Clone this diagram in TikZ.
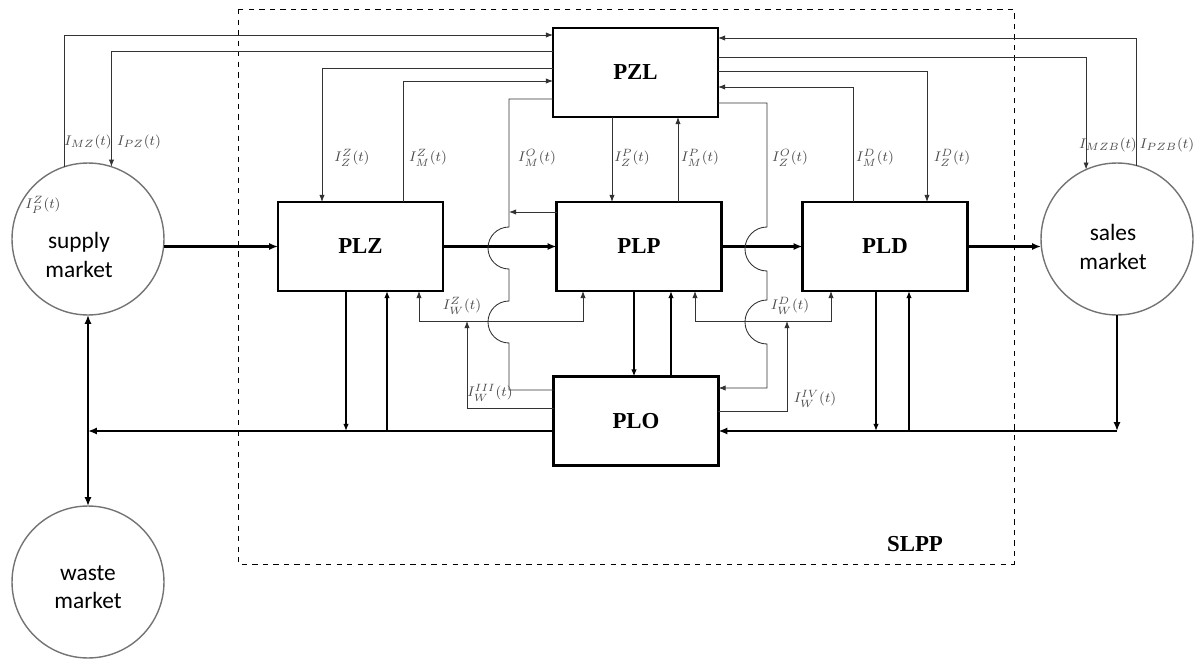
\documentclass[tikz,border=0pt]{standalone}
\usepackage{fontspec}
\setmainfont{Liberation Serif}
\newfontfamily\marketfont{Carlito}
\usetikzlibrary{arrows.meta,positioning,calc}
\tikzset{
  blok/.style={rectangle, draw, line width=1.6pt, minimum width=3.3cm, minimum height=1.78cm,
               inner sep=0pt, outer sep=0pt, font=\fontsize{13}{15}\selectfont\bfseries},
  rynek/.style={circle, draw=black!55, line width=0.8pt, minimum size=3.04cm, inner sep=0pt, outer sep=0pt},
  rtext/.style={align=center, font=\marketfont\fontsize{13.3}{16}\selectfont},
  info/.style={-{Latex[length=4pt,width=3pt]}, line width=0.5pt, draw=black!80},
  mid/.style={-{Latex[length=4pt,width=3pt]}, line width=0.65pt},
  flow/.style={-{Latex[length=5pt,width=4pt]}, line width=1.3pt},
  lbl/.style={font=\fontsize{8.3}{10}\selectfont, text=black!70, inner sep=1pt},
}

\begin{document}
\begin{tikzpicture}[x=0.02cm, y=-0.02cm]
\useasboundingbox (0,0) rectangle (1198,659);

% system border
\draw[dashed, line width=0.5pt] (238,9) rectangle (1014,564);
\node[font=\fontsize{13}{15}\selectfont\bfseries] (slpp) at (915,544) {SLPP};

% blocks
\node[blok] (pzl) at (635.5,72.5) {PZL};
\node[blok] (plz) at (360.5,246.5) {PLZ};
\node[blok] (plp) at (639,246.5) {PLP};
\node[blok] (pld) at (885,246.5) {PLD};
\node[blok] (plo) at (636,421) {PLO};

% markets
\node[rynek] (supply) at (88,239) {};
\node[rtext] (supplytxt) at (79,255) {supply\\market};
\node[rynek] (sales) at (1117,239) {};
\node[rtext] (salestxt) at (1113,247) {sales\\market};
\node[rynek] (waste) at (88,582) {};
\node[rtext] (wastetxt) at (88,587) {waste\\market};

% material flow
\draw[flow] (supply.east |- plz.west) -- (plz.west);
\draw[flow] (plz.east) -- (plp.west);
\draw[flow] (plp.east) -- (pld.west);
\draw[flow] (pld.east) -- (pld.east -| sales.west);
\draw[flow] (plo.west |- 0,431) -- (supply.south |- 0,431);
\draw[flow, {Latex[length=5pt,width=4pt]}-{Latex[length=5pt,width=4pt]}] (supply.south) -- (waste.north);
\draw[flow] (sales.south) -- (sales.south |- 0,431);
\draw[flow] (sales.south |- 0,431) -- (plo.east |- 0,431);
\draw[mid] (plz.south -| 346,0) -- (346,431);
\draw[mid] (387,431) -- (plz.south -| 387,0);
\draw[mid] (pld.south -| 876,0) -- (876,431);
\draw[mid] (909,431) -- (pld.south -| 909,0);
\draw[mid] (plp.south -| 634,0) -- (plo.north -| 634,0);
\draw[mid] (plo.north -| 671,0) -- (plp.south -| 671,0);

% information flow, top
\draw[info] (supply.108) |- (pzl.west |- 0,35);
\draw[info] (pzl.west |- 0,51) -| (supply.72);
\draw[info] (pzl.west |- 0,68) -| (plz.north -| 322,0);
\draw[info] (plz.north -| 403,0) |- (pzl.west |- 0,81);
\draw[info] (pzl.south -| 612,0) -- (plp.north -| 612,0);
\draw[info] (plp.north -| 678,0) -- (pzl.south -| 678,0);
\draw[info] (pld.north -| 853,0) |- (pzl.east |- 0,87);
\draw[info] (pzl.east |- 0,71) -| (pld.north -| 927,0);
\draw[info] (pzl.east |- 0,57) -| (sales.114);
\draw[info] (sales.75) |- (pzl.east |- 0,38);

% information flow, through the middle (with hops)
\draw[line width=0.5pt, draw=black!80] (plo.west |- 0,390) -- (509,390) -- (509,343) arc(90:270:21)
  -- (509,269) arc(90:270:21) -- (509,99) -- (pzl.west |- 0,99);
\draw[info] (plp.west |- 0,212) -- (509,212);
\draw[info] (pzl.east |- 0,103) -- (767,103) -- (767,227) arc(270:90:22)
  -- (767,300) arc(270:90:22) -- (767,388) -- (plo.east |- 0,388);

% information flow, bottom
\draw[info, {Latex[length=4pt,width=3pt]}-{Latex[length=4pt,width=3pt]}] (plz.south -| 419,0) -- (419,321) -- (583,321) -- (plp.south -| 583,0);
\draw[info] (plo.west |- 0,408) -| (467,321);
\draw[info, {Latex[length=4pt,width=3pt]}-{Latex[length=4pt,width=3pt]}] (plp.south -| 695,0) -- (695,321) -- (831,321) -- (pld.south -| 831,0);
\draw[info] (plo.east |- 0,411) -| (787,321);

% labels
\node[lbl] (lMZ) at (88,142) {$I_{MZ}(t)$};
\node[lbl] (lPZ) at (139,142) {$I_{PZ}(t)$};
\node[lbl] (lPz) at (43,205) {$I^{Z}_{P}(t)$};
\node[lbl] (lZz) at (352,158) {$I^{Z}_{Z}(t)$};
\node[lbl] (lMz) at (428,158) {$I^{Z}_{M}(t)$};
\node[lbl] (lMo) at (537,158) {$I^{O}_{M}(t)$};
\node[lbl] (lZp) at (632,158) {$I^{P}_{Z}(t)$};
\node[lbl] (lMp) at (700,158) {$I^{P}_{M}(t)$};
\node[lbl] (lZo) at (790,158) {$I^{O}_{Z}(t)$};
\node[lbl] (lMd) at (875,158) {$I^{D}_{M}(t)$};
\node[lbl] (lZd) at (952,158) {$I^{D}_{Z}(t)$};
\node[lbl] (lMZB) at (1108,145) {$I_{MZB}(t)$};
\node[lbl] (lPZB) at (1167,145) {$I_{PZB}(t)$};
\node[lbl] (lWz) at (462,306) {$I^{Z}_{W}(t)$};
\node[lbl] (lWd) at (790,306) {$I^{D}_{W}(t)$};
\node[lbl] (lW3) at (490,393) {$I^{III}_{W}(t)$};
\node[lbl] (lW4) at (815,399) {$I^{IV}_{W}(t)$};
\end{tikzpicture}
\end{document}
